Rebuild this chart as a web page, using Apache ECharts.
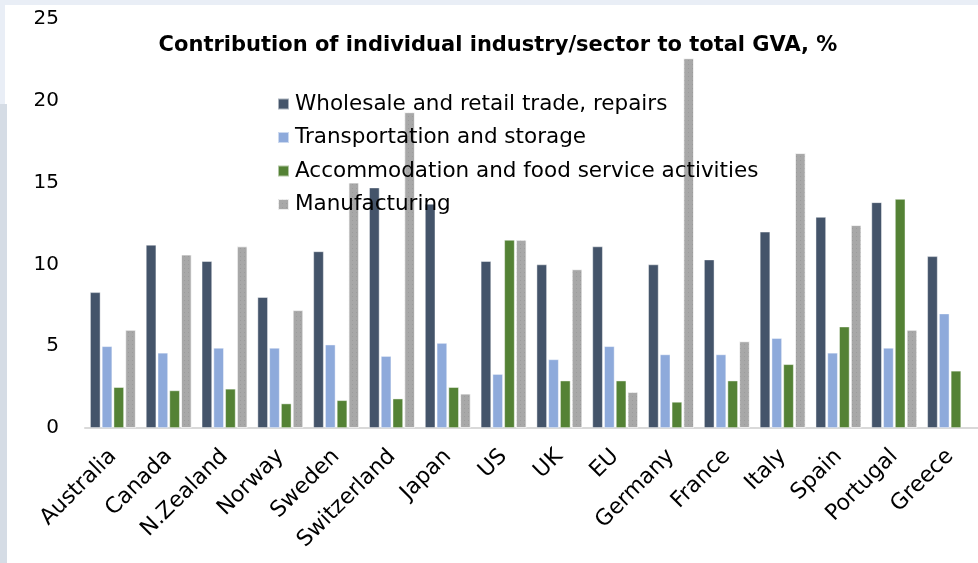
<!DOCTYPE html>
<html>
<head>
<meta charset="utf-8">
<script src="https://cdn.jsdelivr.net/npm/echarts@6/dist/echarts.min.js"></script>
<style>
  html, body { margin: 0; padding: 0; background: #ffffff; }
  #chart { width: 978px; height: 563px; }
</style>
</head>
<body>
<div id="chart"></div>
<script>
// Countries / regions on the category axis
const countries = ['Australia', 'Canada', 'N.Zealand', 'Norway', 'Sweden', 'Switzerland', 'Japan', 'US', 'UK', 'EU', 'Germany', 'France', 'Italy', 'Spain', 'Portugal', 'Greece'];

// Share of total gross value added, %
const wholesaleRetail = [8.3, 11.2, 10.2, 8.0, 10.8, 14.7, 13.7, 10.2, 10.0, 11.1, 10.0, 10.3, 12.0, 12.9, 13.8, 10.5];
const transportStorage = [5.0, 4.6, 4.9, 4.9, 5.1, 4.4, 5.2, 3.3, 4.2, 5.0, 4.5, 4.5, 5.5, 4.6, 4.9, 7.0];
const accommodationFood = [2.5, 2.3, 2.4, 1.5, 1.7, 1.8, 2.5, 11.5, 2.9, 2.9, 1.6, 2.9, 3.9, 6.2, 14.0, 3.5];
const manufacturing = [6.0, 10.6, 11.1, 7.2, 15.0, 19.3, 2.1, 11.5, 9.7, 2.2, 22.6, 5.3, 16.8, 12.4, 6.0, null];

const seriesNames = ['Wholesale and retail trade, repairs', 'Transportation and storage', 'Accommodation and food service activities', 'Manufacturing'];
const yTicks = [0, 5, 10, 15, 20, 25];

const FONT = "'DejaVu Sans', sans-serif";
const colors = ['#44546a', '#8eaadb', '#548235', '#a8a8a8'];

const chart = echarts.init(document.getElementById('chart'), null, { renderer: 'canvas' });

function barSeries(name, data, color, decal) {
  const itemStyle = { color: color, borderColor: 'rgba(255,255,255,0.55)', borderWidth: 0.8 };
  if (decal) itemStyle.decal = decal;
  return {
    name: name,
    type: 'bar',
    data: data,
    barWidth: 10.5,
    barGap: '12%',
    itemStyle: itemStyle,
    emphasis: { disabled: true }
  };
}

// fine dotted fill for the manufacturing bars
const dotted = {
  symbol: 'rect',
  symbolSize: 1,
  dashArrayX: [[1, 3]],
  dashArrayY: [1, 3],
  color: 'rgba(90,90,90,0.16)',
  rotation: 0
};

chart.setOption({
  backgroundColor: '#ffffff',
  animation: false,
  color: colors,
  graphic: [
    // page frame strips
    { type: 'rect', shape: { x: 0, y: 0, width: 978, height: 5 }, style: { fill: '#e9eef6' }, z: 100 },
    { type: 'rect', shape: { x: 0, y: 0, width: 5, height: 104 }, style: { fill: '#e9eef6' }, z: 100 },
    { type: 'rect', shape: { x: 0, y: 104, width: 7, height: 459 }, style: { fill: '#d5dce5' }, z: 100 }
  ],
  title: {
    text: 'Contribution of individual industry/sector to total GVA, %',
    left: 493,
    textAlign: 'center',
    top: 30,
    textStyle: { fontFamily: FONT, fontWeight: 'bold', fontSize: 21, color: '#000000' }
  },
  legend: {
    orient: 'vertical',
    left: 272,
    top: 88,
    itemWidth: 11,
    itemHeight: 11,
    itemGap: 11.5,
    icon: 'rect',
    selectedMode: false,
    data: seriesNames,
    textStyle: { fontFamily: FONT, fontSize: 21.5, color: '#000000', lineHeight: 22, padding: [0, 0, 0, 1] }
  },
  grid: { left: 85, right: -7, top: 19, bottom: 135, containLabel: false },
  xAxis: {
    type: 'category',
    data: countries,
    axisTick: { show: false },
    axisLine: { lineStyle: { color: '#d9d9d9', width: 2 } },
    axisLabel: { interval: 0, rotate: 45, margin: 25, fontFamily: FONT, fontSize: 22, color: '#000000' }
  },
  yAxis: {
    type: 'value',
    min: yTicks[0],
    max: yTicks[yTicks.length - 1],
    interval: 5,
    splitLine: { show: false },
    axisLine: { show: false },
    axisTick: { show: false },
    axisLabel: { margin: 26, fontFamily: FONT, fontSize: 20, color: '#000000' }
  },
  series: [
    barSeries(seriesNames[0], wholesaleRetail, colors[0]),
    barSeries(seriesNames[1], transportStorage, colors[1]),
    barSeries(seriesNames[2], accommodationFood, colors[2]),
    barSeries(seriesNames[3], manufacturing, colors[3], dotted)
  ]
});
</script>
</body>
</html>
